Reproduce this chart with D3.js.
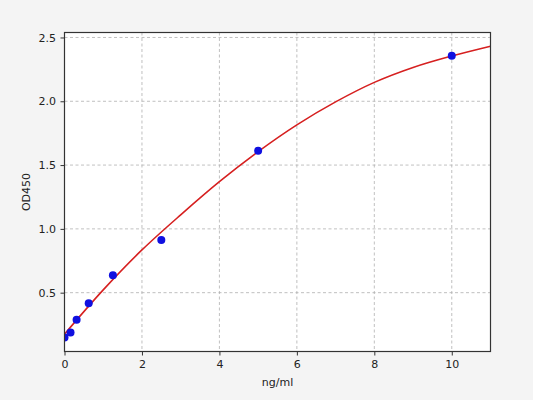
<!DOCTYPE html>
<html><head><meta charset="utf-8">
<script src="https://cdn.jsdelivr.net/npm/d3@7"></script>
<style>body{margin:0;background:#f4f4f4;} svg{display:block;}</style>
</head><body>
<script>
const conc = [0, 0.156, 0.3125, 0.625, 1.25, 2.5, 5, 10];
const od = [0.148, 0.188, 0.287, 0.417, 0.636, 0.912, 1.612, 2.356];
const curveX = [0, 1, 2, 3, 4, 5, 6, 7, 8, 9, 10, 11];
const curveY = [0.175, 0.522, 0.835, 1.11, 1.37, 1.605, 1.815, 1.995, 2.148, 2.265, 2.355, 2.432];
const xTicks = [0, 2, 4, 6, 8, 10];
const yTicks = [0.5, 1.0, 1.5, 2.0, 2.5];

const W = 533, H = 400;
const m = {l: 64.5, r: 490.5, t: 32.5, b: 351.5};
const svg = d3.select("body").append("svg").attr("width", W).attr("height", H);
svg.append("rect").attr("width", W).attr("height", H).attr("fill", "#f4f4f4");
const x = d3.scaleLinear().domain([0, 11]).range([m.l, m.r]);
const y = d3.scaleLinear().domain([0.039, 2.539]).range([m.b, m.t]);

svg.append("rect").attr("x", m.l).attr("y", m.t).attr("width", m.r - m.l).attr("height", m.b - m.t).attr("fill", "#fff");
svg.append("clipPath").attr("id", "c").append("rect").attr("x", m.l).attr("y", m.t).attr("width", m.r - m.l).attr("height", m.b - m.t);

const font = "DejaVu Sans, sans-serif";
// grid
const g = svg.append("g");
g.selectAll(".vx").data(xTicks).join("line").attr("x1", d => x(d)).attr("x2", d => x(d)).attr("y1", m.t).attr("y2", m.b)
  .attr("stroke", "#b0b0b0").attr("stroke-width", 0.8).attr("stroke-dasharray", "3,2.5");
g.selectAll(".hy").data(yTicks).join("line").attr("y1", d => y(d)).attr("y2", d => y(d)).attr("x1", m.l).attr("x2", m.r)
  .attr("stroke", "#b0b0b0").attr("stroke-width", 0.8).attr("stroke-dasharray", "3,2.5");

// curve
const line = d3.line().x((d, i) => x(curveX[i])).y(d => y(d)).curve(d3.curveCatmullRom);
svg.append("path").attr("clip-path", "url(#c)").attr("d", line(curveY)).attr("fill", "none").attr("stroke", "#d62020").attr("stroke-width", 1.6);

// points
svg.append("g").attr("clip-path", "url(#c)").selectAll("circle").data(conc).join("circle")
  .attr("cx", d => x(d)).attr("cy", (d, i) => y(od[i])).attr("r", 4).attr("fill", "#1010e0");

// axes
const xa = svg.append("g").attr("transform", `translate(0,${m.b})`).call(d3.axisBottom(x).tickValues(xTicks).tickFormat(d3.format("d")).tickSize(4).tickPadding(4.5));
const ya = svg.append("g").attr("transform", `translate(${m.l},0)`).call(d3.axisLeft(y).tickValues(yTicks).tickFormat(d3.format(".1f")).tickSize(4).tickPadding(4.5));
[xa, ya].forEach(a => { a.select(".domain").remove(); a.selectAll("text").attr("font-family", font).attr("font-size", 11).attr("fill", "#222"); a.selectAll("line").attr("stroke", "#333"); });

// frame
svg.append("rect").attr("x", m.l).attr("y", m.t).attr("width", m.r - m.l).attr("height", m.b - m.t).attr("fill", "none").attr("stroke", "#333").attr("stroke-width", 1.2);

svg.append("text").attr("x", (m.l + m.r) / 2).attr("y", 386).attr("text-anchor", "middle").attr("font-family", font).attr("font-size", 11).attr("fill", "#222").text("ng/ml");
svg.append("text").attr("transform", `translate(30,${(m.t + m.b) / 2}) rotate(-90)`).attr("text-anchor", "middle").attr("font-family", font).attr("font-size", 11).attr("fill", "#222").text("OD450");
</script>
</body></html>
